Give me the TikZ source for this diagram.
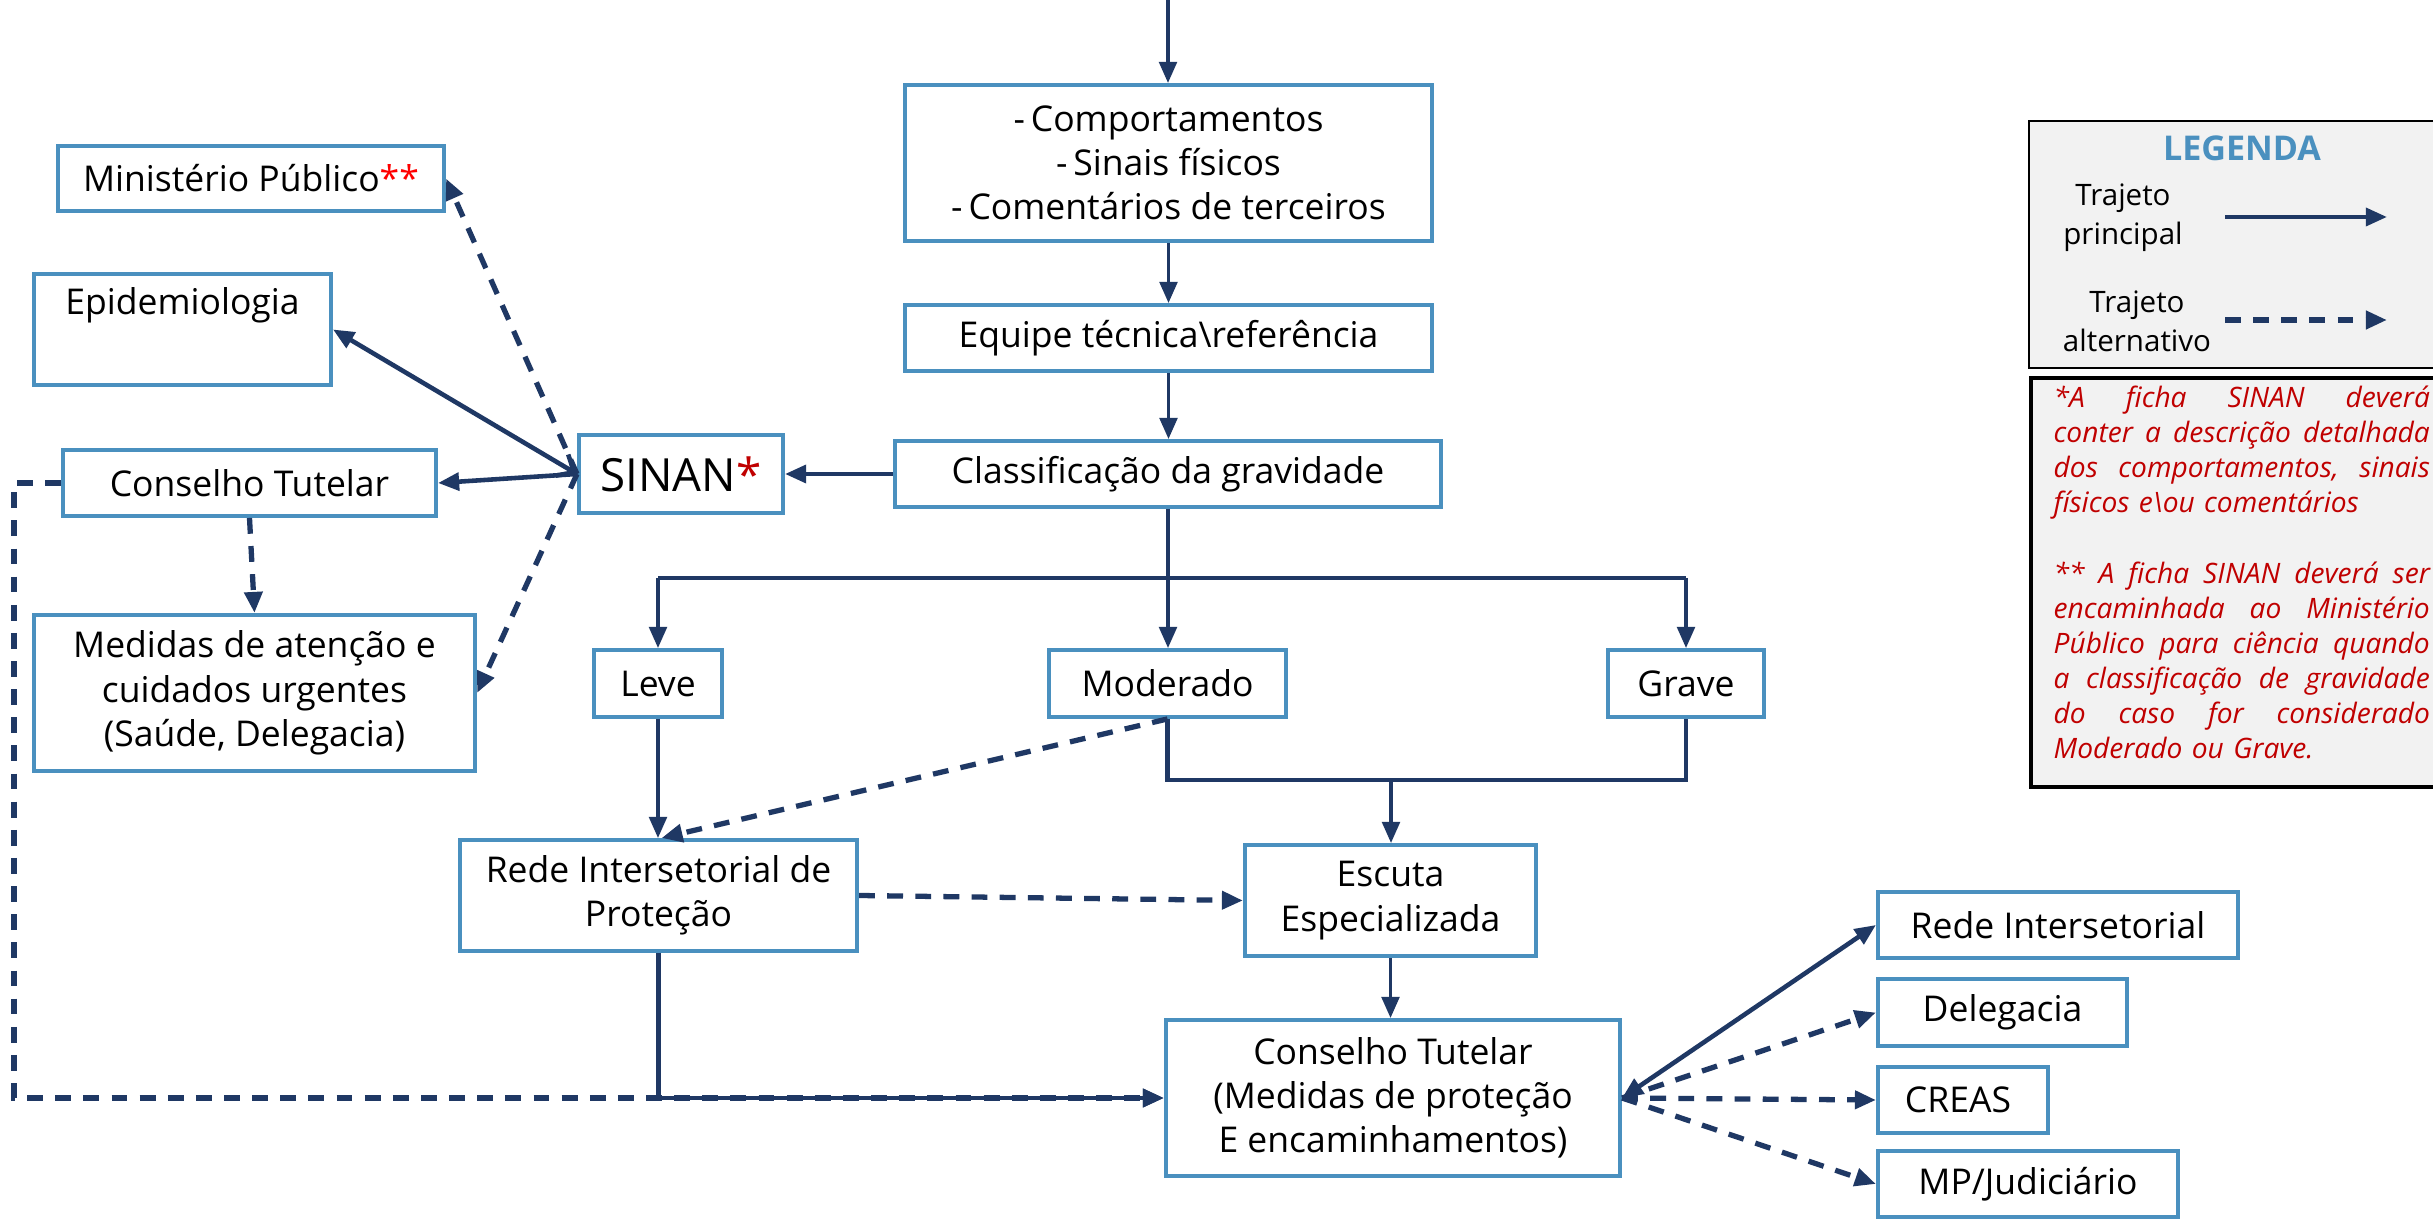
\documentclass[tikz,border=0pt]{standalone}
\usepackage{fontspec}
\setmainfont{Open Sans}
\usetikzlibrary{arrows.meta}
\definecolor{navy}{HTML}{1F3864}
\definecolor{boxblue}{HTML}{4A90BF}
\definecolor{notered}{HTML}{C00000}
\definecolor{legfill}{HTML}{F2F2F2}
\newcommand{\jline}[1]{\leavevmode\hbox to 3.76cm{#1}}
\begin{document}
\begin{tikzpicture}[x=0.01cm, y=-0.01cm,
  box/.style={draw=boxblue, line width=1.1pt, fill=white, inner sep=2pt, align=center,
    font=\fontsize{10.1}{12.6}\selectfont},
  mainarr/.style={draw=navy, line width=1pt, -{Triangle[length=6pt,width=5pt]}},
  altarr/.style={mainarr, line width=1.5pt, dash pattern=on 4.5pt off 3.5pt},
  bar/.style={draw=navy, line width=1.4pt},
  legtext/.style={align=center, font=\fontsize{8.4}{11}\selectfont},
]
\useasboundingbox (0,0) rectangle (2433,1225);
\fill[white] (0,0) rectangle (2433,1225);

% legend
\draw[fill=legfill, draw=black, line width=0.6pt] (2029,121) rectangle (2445,368);
\draw[fill=legfill, draw=black, line width=1pt] (2031,378) rectangle (2445,787);
\node[font=\fontsize{9.7}{11}\selectfont\bfseries, text=boxblue] (legtitle) at (2242,148) {LEGENDA};
\node[legtext] (legmain) at (2123,218) {Trajeto\\principal};
\node[legtext] (legalt) at (2137,321) {Trajeto\\alternativo};
\coordinate (l1a) at (2225,217); \coordinate (l1b) at (2387,217);
\coordinate (l2a) at (2225,320); \coordinate (l2b) at (2387,320);
\draw[mainarr, line width=1.3pt] (l1a) -- (l1b);
\draw[altarr] (l2a) -- (l2b);
\node[anchor=north west, inner sep=0pt, text width=3.76cm, align=left,
  font=\fontsize{8}{10}\selectfont\itshape, text=notered] (note) at (2053,385) {%
\jline{*A\hfill ficha\hfill SINAN\hfill deverá}\\
\jline{conter\hfill a\hfill descrição\hfill detalhada}\\
\jline{dos\hfill comportamentos,\hfill sinais}\\
físicos e\textbackslash ou comentários\\[10pt]
\jline{**\hfill A\hfill ficha\hfill SINAN\hfill deverá\hfill ser}\\
\jline{encaminhada\hfill ao\hfill Ministério}\\
\jline{Público\hfill para\hfill ciência\hfill quando}\\
\jline{a\hfill classificação\hfill de\hfill gravidade}\\
\jline{do\hfill caso\hfill for\hfill considerado}\\
Moderado ou Grave.};

% main nodes
\node[box, minimum width=5.27cm, minimum height=1.56cm] (comp) at (1168.5,163)
  {-\,Comportamentos\\-\,Sinais físicos\\-\,Comentários de terceiros};
\node[box, minimum width=5.27cm, minimum height=0.66cm] (equipe) at (1168.5,338)
  {Equipe técnica\textbackslash referência};
\node[box, minimum width=5.46cm, minimum height=0.66cm] (classif) at (1168,474)
  {Classificação da gravidade};
\node[box, minimum width=2.04cm, minimum height=0.78cm, font=\fontsize{13}{15}\selectfont] (sinan) at (681,474)
  {SINAN\textcolor{notered}{*}};
\node[box, minimum width=3.86cm, minimum height=0.65cm] (mp) at (251,178.5)
  {Ministério Público\textcolor{red}{**}};
\node[box, minimum width=2.97cm, minimum height=1.11cm] (epi) at (182.5,329.5)
  {Epidemiologia\\\strut};
\node[box, minimum width=3.73cm, minimum height=0.66cm] (ctl) at (249.5,483)
  {Conselho Tutelar};
\node[box, minimum width=4.41cm, minimum height=1.56cm] (med) at (254.5,693)
  {Medidas de atenção e\\cuidados urgentes\\(Saúde, Delegacia)};
\node[box, minimum width=1.28cm, minimum height=0.67cm] (leve) at (658,683.5) {Leve};
\node[box, minimum width=2.37cm, minimum height=0.67cm] (mod) at (1167.5,683.5) {Moderado};
\node[box, minimum width=1.56cm, minimum height=0.67cm] (grave) at (1686,683.5) {Grave};
\node[box, minimum width=3.97cm, minimum height=1.11cm] (rede) at (658.5,895.5)
  {Rede Intersetorial de\\Proteção};
\node[box, minimum width=2.91cm, minimum height=1.11cm] (escuta) at (1390.5,900.5)
  {Escuta\\Especializada};
\node[box, minimum width=4.54cm, minimum height=1.56cm] (ctm) at (1393,1098)
  {Conselho Tutelar\\(Medidas de proteção\\E encaminhamentos)};
\node[box, minimum width=3.60cm, minimum height=0.66cm] (ri) at (2058,925) {Rede Intersetorial};
\node[box, minimum width=2.49cm, minimum height=0.67cm] (del) at (2002.5,1012.5) {Delegacia};
\node[box, minimum width=1.70cm, minimum height=0.66cm] (creas) at (1963,1100) {\hspace*{-0.1cm}CREAS};
\node[box, minimum width=3.00cm, minimum height=0.66cm] (mpj) at (2028,1184) {MP/Judiciário};

% connectors
\coordinate (top) at (1168,0);
\coordinate (br1) at (1168,578);
\coordinate (br2) at (1391,780);
\draw[mainarr] (top) -- (top |- comp.north);
\draw[mainarr] (comp.south) -- (equipe.north);
\draw[mainarr] (equipe.south) -- (equipe.south |- classif.north);
\draw[bar] (classif.south) -- (br1);
\draw[bar] (leve.north |- br1) -- (grave.north |- br1);
\draw[mainarr] (leve.north |- br1) -- (leve.north);
\draw[mainarr] (br1) -- (br1 |- mod.north);
\draw[mainarr] (grave.north |- br1) -- (grave.north);
\draw[bar] (mod.south) |- (grave.south |- br2) -- (grave.south);
\draw[mainarr] (br2) -- (br2 |- escuta.north);
\draw[mainarr] (leve.south) -- (leve.south |- rede.north);
\draw[altarr] (mod.south) -- ([xshift=0.03cm]rede.north);
\draw[altarr] (rede.east) -- (escuta.west);
\draw[mainarr] (escuta.south) -- (escuta.south |- ctm.north);
\draw[altarr] (ctl.west) -- ++(-47,0) |- (ctm.west);
\draw[mainarr, line width=1.3pt] (rede.south) |- (ctm.west);
\draw[mainarr, line width=1.3pt] (classif.west) -- (sinan.east);
\draw[mainarr, line width=1.3pt, {Straight Barb[length=4pt,width=7pt]}-{Triangle[length=6pt,width=5pt]}] (sinan.west) -- (epi.east);
\draw[mainarr, line width=1.3pt] (sinan.west) -- (ctl.east);
\draw[altarr] (sinan.west) -- (mp.east);
\draw[altarr] (sinan.west) -- (med.east);
\draw[altarr] (ctl.south) -- (med.north);
\draw[mainarr, line width=1.3pt, {Triangle[length=6pt,width=5pt]}-{Triangle[length=6pt,width=5pt]}] (ctm.east) -- (ri.west);
\draw[altarr] (ctm.east) -- (del.west);
\draw[altarr] (ctm.east) -- (creas.west);
\draw[altarr] (ctm.east) -- (mpj.west);
\end{tikzpicture}
\end{document}
